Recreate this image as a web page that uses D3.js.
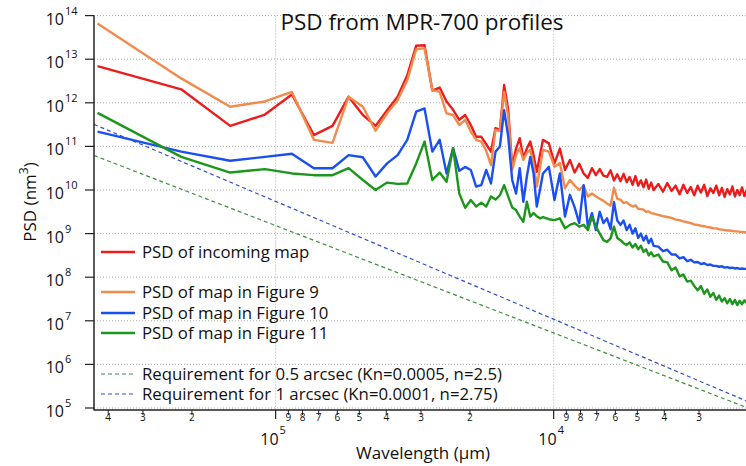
<!DOCTYPE html>
<html>
  <head>
    <meta charset="utf-8">
    <title>PSD from MPR-700 profiles</title>
    <script src="https://d3js.org/d3.v7.min.js"></script>
    <style>
      body { margin: 0; background: #fff; }
      text { font-family: "Open Sans", Lato, sans-serif; fill: #111; }
    </style>
  </head>
  <body>
    <script>
        var width = 746;
        var height = 466;

        // profile length in µm; wavelength of harmonic k = profileLength / k
        var profileLength = 437000;
        var harmonics = [
            1,2,3,4,5,6,7,8,9,10,11,12,13,14,15,16,17,18,19,20,
            21,22,23,24,25,26,27,28,29,30,31,32,33,34,35,36,37,38,39,40,
            42,44,46,48,50,52,54,56,58,60,62,64,66,68,70,72,74,76,78,80,
            82,84,86,88,90,92,94,96,98,100,
            104,108,112,116,120,124,128,132,136,140,144,148,152,156,160,
            164,168,172,176,180,184,188,192,196,200,204,208,212,216
        ];

        // log10 of PSD (nm^3)
        var incomingExp = [
            12.84,12.31,11.47,11.73,12.19,11.26,11.47,12.14,11.72,11.47,
            11.83,12.14,12.63,13.31,13.32,12.28,12.35,12.03,11.84,11.61,
            11.72,11.49,11.22,11.22,11.05,10.88,11.42,11.38,12.41,11.83,
            10.53,10.95,11.19,10.73,10.95,11.11,10.80,10.42,10.80,11.15,
            11.07,10.61,10.95,10.46,10.69,10.40,10.60,10.38,10.28,10.50,
            10.34,10.48,10.33,10.30,10.45,10.22,10.36,10.20,10.37,10.18,
            10.30,10.12,10.32,10.10,10.22,10.06,10.24,10.03,10.17,10.00,
            10.14,9.96,10.16,9.98,10.10,9.90,10.12,9.93,10.07,9.88,
            10.10,9.94,10.12,9.86,10.04,9.93,10.10,9.88,10.05,9.84,
            10.02,9.90,10.08,9.85,10.00,9.88,10.06,9.86,9.99
        ];
        var fig9Exp = [
            13.82,12.56,11.91,12.03,12.25,11.15,11.08,12.14,11.91,11.36,
            11.76,12.06,12.52,13.23,13.25,12.29,12.25,11.76,11.72,11.49,
            11.61,11.34,11.15,11.11,10.90,10.57,11.38,11.35,12.25,11.68,
            10.46,10.80,10.96,10.69,10.85,10.92,10.60,10.08,10.50,10.92,
            10.88,10.53,10.62,10.04,10.23,10.10,10.00,10.10,9.85,9.92,
            9.85,9.80,9.75,9.69,9.64,10.05,9.80,9.78,9.70,9.72,
            9.66,9.62,9.65,9.57,9.56,9.55,9.50,9.51,9.47,9.46,
            9.43,9.40,9.38,9.36,9.32,9.31,9.28,9.26,9.24,9.21,
            9.20,9.18,9.17,9.15,9.14,9.12,9.12,9.10,9.09,9.08,
            9.07,9.07,9.06,9.05,9.05,9.04,9.04,9.03,9.03
        ];
        var fig10Exp = [
            11.34,10.88,10.67,10.76,10.83,10.50,10.50,10.80,10.75,10.31,
            10.61,10.80,11.15,11.80,11.87,10.88,11.15,10.38,10.96,10.44,
            10.53,10.46,10.08,10.11,10.46,10.15,10.88,11.00,11.83,11.22,
            10.23,9.92,10.50,9.73,10.31,10.76,10.38,9.62,10.00,10.38,
            10.53,9.77,10.38,9.39,9.89,9.60,9.24,10.11,9.16,9.47,
            9.08,9.50,9.24,9.35,9.10,9.72,9.30,9.20,9.30,9.08,
            9.20,9.00,9.12,8.90,9.00,8.84,8.95,8.78,8.88,8.72,
            8.70,8.60,8.63,8.52,8.52,8.43,8.46,8.37,8.40,8.34,
            8.35,8.30,8.32,8.28,8.29,8.26,8.26,8.24,8.25,8.22,
            8.23,8.21,8.22,8.20,8.21,8.19,8.20,8.19,8.19
        ];
        var fig11Exp = [
            11.77,10.76,10.40,10.48,10.38,10.34,10.34,10.50,10.23,10.00,
            10.17,10.14,10.15,10.61,11.11,10.23,10.40,10.19,10.96,9.92,
            9.59,9.77,9.62,9.71,9.62,9.85,9.78,9.88,10.11,9.85,
            9.60,9.54,9.39,9.27,9.73,9.39,9.47,9.40,9.35,9.38,
            9.33,9.31,9.35,9.12,9.20,9.24,9.16,9.20,9.08,9.39,
            9.16,9.00,8.85,8.81,8.89,9.16,8.90,8.85,8.78,8.74,
            8.80,8.68,8.76,8.64,8.72,8.58,8.64,8.50,8.57,8.48,
            8.52,8.36,8.34,8.16,8.22,8.02,8.06,7.90,7.92,7.80,
            7.70,7.80,7.62,7.72,7.55,7.64,7.48,7.58,7.44,7.52,
            7.40,7.50,7.38,7.48,7.36,7.46,7.38,7.47,7.41
        ];

        // requirement lines: [wavelength µm, PSD nm^3] end points
        var reqHalfArcsec = [[450000, 6.2e10], [2000, 1.0e5]];
        var reqOneArcsec = [[450000, 3.2e11], [2000, 1.4e5]];

        var yDecades = [5, 6, 7, 8, 9, 10, 11, 12, 13, 14];
        var xMajorTicks = [1e5, 1e4];
        var xMinorTicks = [4e5, 3e5, 2e5, 9e4, 8e4, 7e4, 6e4, 5e4, 4e4, 3e4, 2e4,
                           9e3, 8e3, 7e3, 6e3, 5e3, 4e3, 3e3];

        var seriesNames = ["PSD of incoming map", "PSD of map in Figure 9",
                           "PSD of map in Figure 10", "PSD of map in Figure 11"];
        var reqNames = ["Requirement for 0.5 arcsec (Kn=0.0005, n=2.5)",
                        "Requirement for 1 arcsec (Kn=0.0001, n=2.75)"];

        var colors = ["#ec1c1c", "#f28a4c", "#1a4ff0", "#1c961c"];
        var reqColors = ["#3a8f3a", "#2f4fd0"];

        var plotLeft = 94, plotRight = 748, plotTop = 15.6, plotBottom = 408, axisY = 410;

        var svg = d3.select("body").append("svg")
            .attr("width", width)
            .attr("height", height)
        ;

        var x = d3.scaleLog()
            .domain([450000, 2000])
            .range([plotLeft, plotRight])
        ;
        var y = d3.scaleLog()
            .domain([1e5, 1e14])
            .range([plotBottom, plotTop])
        ;

        svg.append("clipPath").attr("id", "plot")
            .append("rect")
            .attr("x", plotLeft).attr("y", 0)
            .attr("width", width - plotLeft).attr("height", axisY)
        ;

        // grid
        svg.append("g").selectAll("line")
            .data(yDecades)
            .enter().append("line")
            .attr("x1", plotLeft).attr("x2", width)
            .attr("y1", d => y(Math.pow(10, d)))
            .attr("y2", d => y(Math.pow(10, d)))
            .attr("stroke", "#aaa")
            .attr("stroke-width", 1)
            .attr("stroke-dasharray", "1,2")
        ;
        svg.append("g").selectAll("line")
            .data(xMajorTicks)
            .enter().append("line")
            .attr("x1", d => x(d)).attr("x2", d => x(d))
            .attr("y1", plotTop).attr("y2", axisY)
            .attr("stroke", "#aaa")
            .attr("stroke-width", 1)
            .attr("stroke-dasharray", "1,2")
        ;

        var plot = svg.append("g").attr("clip-path", "url(#plot)");

        // requirement lines
        var reqLine = d3.line()
            .x(d => x(d[0]))
            .y(d => y(d[1]))
        ;
        [reqHalfArcsec, reqOneArcsec].forEach((r, i) => {
            plot.append("path")
                .attr("d", reqLine(r))
                .attr("fill", "none")
                .attr("stroke", reqColors[i])
                .attr("stroke-width", 1.2)
                .attr("stroke-dasharray", "4,3")
            ;
        });

        // PSD curves
        var psdLine = d3.line()
            .x(d => x(profileLength / d[0]))
            .y(d => y(Math.pow(10, d[1])))
        ;
        [incomingExp, fig9Exp, fig10Exp, fig11Exp].forEach((s, i) => {
            var pts = harmonics.map((k, j) => [k, s[j]]);
            plot.append("path")
                .attr("d", psdLine(pts))
                .attr("fill", "none")
                .attr("stroke", colors[i])
                .attr("stroke-width", 2.4)
                .attr("stroke-linejoin", "round")
            ;
        });

        // axes
        svg.append("line")
            .attr("x1", plotLeft).attr("x2", plotLeft)
            .attr("y1", plotTop).attr("y2", axisY + 0.5)
            .attr("stroke", "#222").attr("stroke-width", 1.5)
        ;
        svg.append("line")
            .attr("x1", plotLeft).attr("x2", width)
            .attr("y1", axisY).attr("y2", axisY)
            .attr("stroke", "#222").attr("stroke-width", 1.5)
        ;

        // y ticks + labels
        var yt = svg.append("g").selectAll("g")
            .data(yDecades)
            .enter().append("g")
            .attr("transform", d => "translate(0," + y(Math.pow(10, d)) + ")")
        ;
        yt.append("line")
            .attr("x1", plotLeft - 9).attr("x2", plotLeft)
            .attr("stroke", "#222").attr("stroke-width", 1.2)
        ;
        yt.append("text")
            .attr("x", 64).attr("y", 9)
            .attr("text-anchor", "end")
            .attr("font-size", 16)
            .text("10")
        ;
        yt.append("text")
            .attr("x", 65).attr("y", -1)
            .attr("font-size", 11)
            .text(d => d)
        ;

        // x ticks + labels
        svg.append("g").selectAll("line")
            .data(xMinorTicks)
            .enter().append("line")
            .attr("x1", d => x(d)).attr("x2", d => x(d))
            .attr("y1", axisY).attr("y2", axisY + 5)
            .attr("stroke", "#222").attr("stroke-width", 1)
        ;
        svg.append("g").selectAll("text")
            .data(xMinorTicks)
            .enter().append("text")
            .attr("x", d => x(d)).attr("y", axisY + 11)
            .attr("text-anchor", "middle")
            .attr("font-size", 10)
            .text(d => String(d).charAt(0))
        ;
        var xt = svg.append("g").selectAll("g")
            .data(xMajorTicks)
            .enter().append("g")
            .attr("transform", d => "translate(" + x(d) + "," + axisY + ")")
        ;
        xt.append("line")
            .attr("y1", 0).attr("y2", 9)
            .attr("stroke", "#222").attr("stroke-width", 1.2)
        ;
        xt.append("text")
            .attr("x", 3).attr("y", 35)
            .attr("text-anchor", "end")
            .attr("font-size", 16)
            .text("10")
        ;
        xt.append("text")
            .attr("x", 4).attr("y", 24)
            .attr("font-size", 11)
            .text(d => Math.round(Math.log10(d)))
        ;

        // titles
        svg.append("text")
            .attr("x", 422).attr("y", 30)
            .attr("text-anchor", "middle")
            .attr("font-size", 22.5)
            .text("PSD from MPR-700 profiles")
        ;
        svg.append("text")
            .attr("x", 423).attr("y", 459)
            .attr("text-anchor", "middle")
            .attr("font-size", 17)
            .text("Wavelength (\u00b5m)")
        ;
        var yl = svg.append("text")
            .attr("transform", "translate(36,202) rotate(-90)")
            .attr("text-anchor", "middle")
            .attr("font-size", 17)
        ;
        yl.append("tspan").text("PSD (nm");
        yl.append("tspan").attr("font-size", 12).attr("dy", -8).text("3");
        yl.append("tspan").attr("dy", 8).text(")");

        // legend
        var legendRows = [
            {name: seriesNames[0], color: colors[0], y: 252, dash: null},
            {name: seriesNames[1], color: colors[1], y: 292, dash: null},
            {name: seriesNames[2], color: colors[2], y: 313, dash: null},
            {name: seriesNames[3], color: colors[3], y: 333, dash: null},
            {name: reqNames[0], color: reqColors[0], y: 374, dash: "4,3"},
            {name: reqNames[1], color: reqColors[1], y: 394, dash: "4,3"}
        ];
        var lg = svg.append("g").selectAll("g")
            .data(legendRows)
            .enter().append("g")
            .attr("transform", d => "translate(0," + d.y + ")")
        ;
        lg.append("line")
            .attr("x1", 101).attr("x2", 135)
            .attr("stroke", d => d.color)
            .attr("stroke-width", d => d.dash ? 1.2 : 2.4)
            .attr("stroke-dasharray", d => d.dash)
        ;
        lg.append("text")
            .attr("x", 142).attr("y", 5.8)
            .attr("font-size", 16.8)
            .text(d => d.name)
        ;
    </script>
  </body>
</html>
